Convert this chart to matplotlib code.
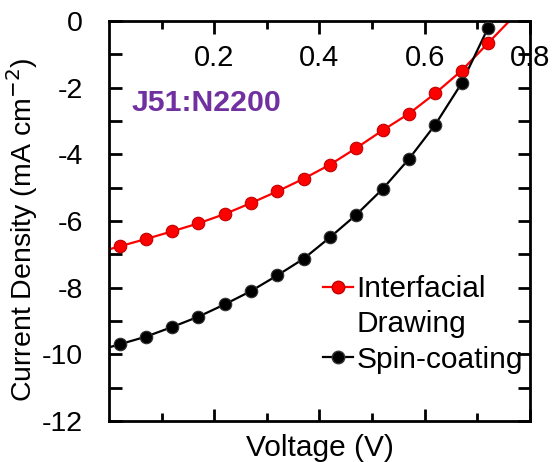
import matplotlib
matplotlib.use("Agg")
import matplotlib.pyplot as plt
from matplotlib.lines import Line2D

plt.rcParams['font.family'] = ['Liberation Sans', 'DejaVu Sans']
plt.rcParams['axes.unicode_minus'] = False

# measured points (V, mA cm^-2)
voltage = [0.02, 0.07, 0.12, 0.17, 0.22, 0.27, 0.32, 0.37,
           0.42, 0.47, 0.52, 0.57, 0.62, 0.67, 0.72]
j_interfacial = [-6.76, -6.54, -6.31, -6.07, -5.79, -5.46, -5.11, -4.73,
                 -4.31, -3.81, -3.28, -2.78, -2.17, -1.49, -0.67]
j_spin = [-9.70, -9.47, -9.18, -8.87, -8.50, -8.10, -7.63, -7.13,
          -6.49, -5.81, -5.04, -4.14, -3.11, -1.87, -0.22]

# line ends beyond the markers
v_start = 0.0
j_interfacial_start = -6.85
j_spin_start = -9.79
v_interfacial_end = 0.767
j_interfacial_end = 0.1

red = '#FF0000'
red_edge = '#C00000'
black = '#000000'

fig = plt.figure(figsize=(5.52, 4.62), dpi=100)
ax = fig.add_axes([0.1975, 0.0887, 0.7625, 0.8658])

ax.plot([v_start] + voltage + [v_interfacial_end],
        [j_interfacial_start] + j_interfacial + [j_interfacial_end],
        '-', color=red, linewidth=1.6, zorder=2)
ax.plot([v_start] + voltage, [j_spin_start] + j_spin,
        '-', color=black, linewidth=1.6, zorder=2)
ax.plot(voltage, j_interfacial, 'o', color=red, markeredgecolor=red_edge,
        markersize=9, markeredgewidth=0.8, zorder=3, clip_on=False)
ax.plot(voltage, j_spin, 'o', color=black, markeredgecolor='#333333',
        markersize=9, markeredgewidth=0.8, zorder=4, clip_on=False)

ax.set_xlim(0, 0.8)
ax.set_ylim(-12, 0)

ax.set_xticks([0.2, 0.4, 0.6, 0.8])
ax.set_xticks([0.1, 0.3, 0.5, 0.7], minor=True)
ax.set_xticklabels(['0.2', '0.4', '0.6', '0.8'])
ax.set_yticks([-12, -10, -8, -6, -4, -2, 0])
ax.set_yticks([-11, -9, -7, -5, -3, -1], minor=True)

ax.tick_params(axis='x', which='both', direction='in', top=True, bottom=True,
               labeltop=True, labelbottom=False, labelsize=21, pad=-37, width=2)
ax.tick_params(axis='x', which='major', length=9)
ax.tick_params(axis='x', which='minor', length=6)
ax.tick_params(axis='y', which='both', direction='in', left=True, right=True,
               labelsize=20.5, pad=19, width=2, length=9)

for s in ax.spines.values():
    s.set_linewidth(2)

ax.set_xlabel('Voltage (V)', fontsize=21.5, labelpad=9)
ax.set_ylabel('Current Density (mA cm$^{-2}$)', fontsize=20.5)
ax.yaxis.set_label_coords(-0.163, 0.4775)

ax.text(0.054, 0.794, 'J51:N2200', transform=ax.transAxes, fontsize=21.8,
        fontweight='bold', color='#7030A0', ha='left', va='center')

handles = [
    Line2D([], [], color=red, marker='o', markerfacecolor=red,
           markeredgecolor=red_edge, markersize=9, linewidth=1.6),
    Line2D([], [], linestyle='none'),
    Line2D([], [], color=black, marker='o', markerfacecolor=black,
           markeredgecolor='#333333', markersize=9, linewidth=1.6),
]
ax.legend(handles, ['Interfacial', 'Drawing', 'Spin-coating'],
          loc='upper left', bbox_to_anchor=(0.508, 0.365), frameon=False,
          fontsize=21.5, handlelength=1.0, handletextpad=0.13,
          labelspacing=0.25, borderpad=0, borderaxespad=0)

fig.savefig('out.png', dpi=100)
